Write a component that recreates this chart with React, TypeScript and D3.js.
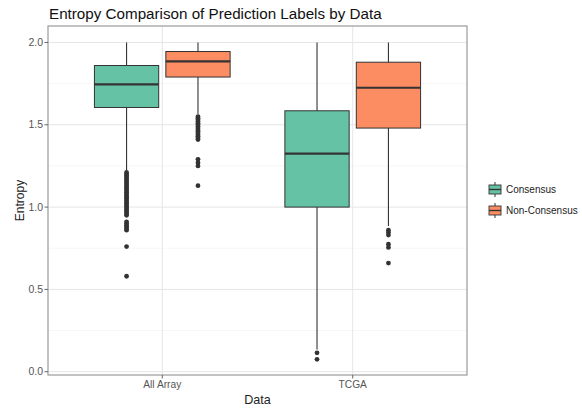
import React from 'react';
import * as d3 from 'd3';

const categories = ['All Array', 'TCGA'];
const groups = ['Consensus', 'Non-Consensus'];
const groupColors = ['#66C2A5', '#FC8D62'];

// box statistics: [lower whisker, Q1, median, Q3, upper whisker]
const allArrayConsensus = [1.225, 1.605, 1.745, 1.86, 2.0];
const allArrayNonConsensus = [1.565, 1.79, 1.885, 1.945, 2.0];
const tcgaConsensus = [0.135, 1.0, 1.325, 1.585, 2.0];
const tcgaNonConsensus = [0.885, 1.48, 1.725, 1.88, 2.0];

const allArrayConsensusOutliers = [
  1.21, 1.2, 1.19, 1.18, 1.17, 1.16, 1.15, 1.14, 1.13, 1.12, 1.11, 1.1, 1.09, 1.08,
  1.07, 1.06, 1.05, 1.04, 1.03, 1.02, 1.01, 1.0, 0.99, 0.98, 0.97, 0.96, 0.95,
  0.91, 0.9, 0.89, 0.88, 0.87, 0.86, 0.76, 0.58,
];
const allArrayNonConsensusOutliers = [
  1.55, 1.54, 1.53, 1.52, 1.51, 1.5, 1.49, 1.48, 1.47, 1.46, 1.45, 1.44, 1.43, 1.42,
  1.41, 1.29, 1.27, 1.25, 1.13,
];
const tcgaConsensusOutliers = [0.115, 0.075];
const tcgaNonConsensusOutliers = [0.86, 0.845, 0.83, 0.775, 0.755, 0.66];

const yTicks = [0, 0.5, 1.0, 1.5, 2.0];
const yTickLabels = ['0.0', '0.5', '1.0', '1.5', '2.0'];
const yMinorTicks = [0.25, 0.75, 1.25, 1.75];

const title = 'Entropy Comparison of Prediction Labels by Data';
const xTitle = 'Data';
const yTitle = 'Entropy';

const boxes = [
  { cat: 'All Array', group: 'Consensus', stats: allArrayConsensus, outliers: allArrayConsensusOutliers },
  { cat: 'All Array', group: 'Non-Consensus', stats: allArrayNonConsensus, outliers: allArrayNonConsensusOutliers },
  { cat: 'TCGA', group: 'Consensus', stats: tcgaConsensus, outliers: tcgaConsensusOutliers },
  { cat: 'TCGA', group: 'Non-Consensus', stats: tcgaNonConsensus, outliers: tcgaNonConsensusOutliers },
];

const FONT = '"Liberation Sans", Arial, Helvetica, sans-serif';

export default function App() {
  const W = 582, H = 410;
  const left = 48, right = 467, top = 26, bottom = 375;

  const x = d3.scalePoint<string>().domain(categories).range([left, right]).padding(0.6);
  const step = x.step();
  const dodge = step * 0.75;
  const sub = d3.scaleBand<string>().domain(groups).range([-dodge / 2, dodge / 2]);
  const boxW = sub.bandwidth() * 0.9;
  const y = d3.scaleLinear().domain([-0.02, 2.1]).range([bottom, top]);
  const color = d3.scaleOrdinal<string, string>().domain(groups).range(groupColors);

  const gridMajor = '#e6e6e6';
  const gridMinor = '#f4f4f4';
  const dark = '#333333';

  return (
    <svg width={W} height={H} style={{ position: 'absolute', left: 0, top: 0, background: '#fff' }} fontFamily={FONT}>
      <rect x={0} y={0} width={W} height={H} fill="#fff" />
      <text x={49} y={19} fontSize={15.2} fill="#111">{title}</text>

      {/* grid */}
      {yMinorTicks.map((t) => (
        <line key={'mi' + t} x1={left} x2={right} y1={y(t)} y2={y(t)} stroke={gridMinor} strokeWidth={0.8} />
      ))}
      {yTicks.map((t) => (
        <line key={'ma' + t} x1={left} x2={right} y1={y(t)} y2={y(t)} stroke={gridMajor} strokeWidth={1} />
      ))}
      {categories.map((c) => (
        <line key={'vx' + c} x1={x(c)} x2={x(c)} y1={top} y2={bottom} stroke={gridMajor} strokeWidth={1} />
      ))}

      {/* boxes */}
      {boxes.map((b, i) => {
        const cx = (x(b.cat) as number) + (sub(b.group) as number) + sub.bandwidth() / 2;
        const [lo, q1, med, q3, hi] = b.stats;
        return (
          <g key={i}>
            <line x1={cx} x2={cx} y1={y(hi)} y2={y(q3)} stroke={dark} strokeWidth={1.1} />
            <line x1={cx} x2={cx} y1={y(q1)} y2={y(lo)} stroke={dark} strokeWidth={1.1} />
            <rect x={cx - boxW / 2} y={y(q3)} width={boxW} height={y(q1) - y(q3)} fill={color(b.group)} stroke={dark} strokeWidth={1} />
            <line x1={cx - boxW / 2} x2={cx + boxW / 2} y1={y(med)} y2={y(med)} stroke={dark} strokeWidth={2.2} />
            {b.outliers.map((o, j) => (
              <circle key={j} cx={cx} cy={y(o)} r={2.4} fill={dark} />
            ))}
          </g>
        );
      })}

      {/* panel border */}
      <rect x={left} y={top} width={right - left} height={bottom - top} fill="none" stroke="#9a9a9a" strokeWidth={1.2} />

      {/* y axis */}
      {yTicks.map((t, i) => (
        <g key={'yt' + t}>
          <line x1={left - 3.5} x2={left} y1={y(t)} y2={y(t)} stroke="#666" strokeWidth={1} />
          <text x={left - 5} y={y(t)} dy="0.35em" textAnchor="end" fontSize={10.5} fill="#555">{yTickLabels[i]}</text>
        </g>
      ))}
      {/* x axis */}
      {categories.map((c) => (
        <g key={'xt' + c}>
          <line x1={x(c)} x2={x(c)} y1={bottom} y2={bottom + 3.5} stroke="#666" strokeWidth={1} />
          <text x={x(c)} y={388} textAnchor="middle" fontSize={10.2} fill="#555">{c}</text>
        </g>
      ))}
      <text x={(left + right) / 2} y={404} textAnchor="middle" fontSize={12.6} fill="#222">{xTitle}</text>
      <text transform={`translate(24, ${(top + bottom) / 2}) rotate(-90)`} textAnchor="middle" fontSize={12} fill="#222">{yTitle}</text>

      {/* legend */}
      {groups.map((g, i) => {
        const cy = 189.5 + i * 21;
        const kx = 489, kw = 12;
        return (
          <g key={'lg' + g}>
            <line x1={kx + kw / 2} x2={kx + kw / 2} y1={cy - 7.5} y2={cy + 7.5} stroke={dark} strokeWidth={1} />
            <rect x={kx} y={cy - 4.5} width={kw} height={9} fill={color(g)} stroke={dark} strokeWidth={0.9} />
            <line x1={kx} x2={kx + kw} y1={cy} y2={cy} stroke={dark} strokeWidth={1.4} />
            <text x={506} y={cy} dy="0.35em" fontSize={10} fill="#222">{g}</text>
          </g>
        );
      })}
    </svg>
  );
}
